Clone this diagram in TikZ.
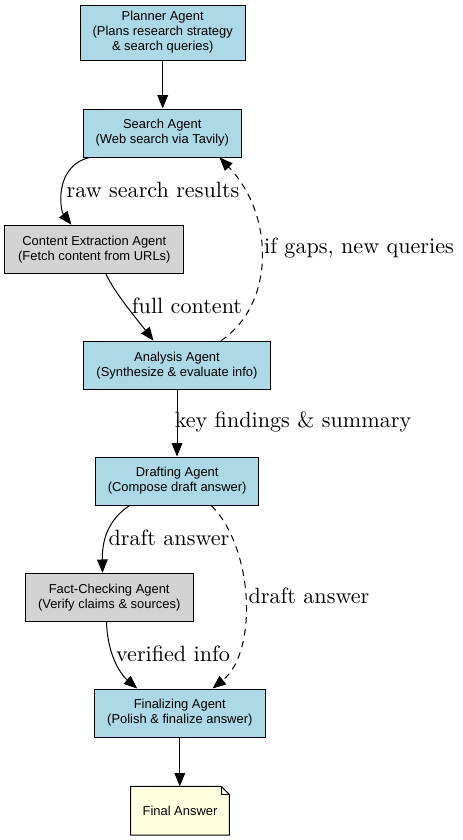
\documentclass[tikz,border=0pt]{standalone}
\usepackage{fontspec}
\newfontfamily\nodefont{Liberation Sans}
\newfontfamily\labelfont{lmroman10-regular.otf}
\usetikzlibrary{arrows.meta,calc}
\definecolor{agentblue}{HTML}{ADD8E6}
\definecolor{agentgray}{HTML}{D3D3D3}
\definecolor{noteyellow}{HTML}{FFFFE0}
\begin{document}
\begin{tikzpicture}[x=0.75pt,y=-0.75pt,
  agent/.style={draw=black, line width=0.75pt, fill=agentblue, align=center,
    minimum height=36pt, inner sep=0pt, font=\nodefont\fontsize{9.7}{11.25}\selectfont},
  grayagent/.style={agent, fill=agentgray},
  elabel/.style={inner sep=0pt, font=\labelfont\fontsize{16.6}{19}\selectfont},
  flow/.style={line width=0.75pt, -{Triangle[length=10pt,width=8pt]}},
  dashflow/.style={flow, dash pattern=on 5pt off 4pt}
]
\useasboundingbox (0,0) rectangle (463,840);

% nodes
\node[agent, minimum width=123.5pt, minimum height=41.25pt] (planner) at (162.7,32.5)
  {Planner Agent\\(Plans research strategy\\\& search queries)};
\node[agent, minimum width=118.5pt] (search) at (162.3,133)
  {Search Agent\\(Web search via Tavily)};
\node[grayagent, minimum width=134.5pt] (content) at (94.3,249.2)
  {Content Extraction Agent\\(Fetch content from URLs)};
\node[agent, minimum width=140.5pt] (analysis) at (177,365.2)
  {Analysis Agent\\(Synthesize \& evaluate info)};
\node[agent, minimum width=122.25pt] (drafting) at (177.2,481)
  {Drafting Agent\\(Compose draft answer)};
\node[grayagent, minimum width=126.2pt] (fact) at (109.2,597.3)
  {Fact-Checking Agent\\(Verify claims \& sources)};
\node[agent, minimum width=128.25pt] (final) at (179.8,713)
  {Finalizing Agent\\(Polish \& finalize answer)};
\node[inner sep=0pt, minimum width=73.5pt, minimum height=36.2pt,
  font=\nodefont\fontsize{9.7}{11.25}\selectfont] (answer) at (180,810.8) {};
\draw[line width=0.75pt, fill=noteyellow]
  (answer.north west) -- ($(answer.north east)+(-8,0)$) -- ($(answer.north east)+(0,8)$)
  -- (answer.south east) -- (answer.south west) -- cycle;
\draw[line width=0.75pt]
  ($(answer.north east)+(-8,0)$) -- ($(answer.north east)+(-8,8)$) -- ($(answer.north east)+(0,8)$);
\node[inner sep=0pt, font=\nodefont\fontsize{9.7}{11.25}\selectfont] (answertext) at (answer.center) {Final Answer};

% edge labels
\node[elabel] (l1) at (153,190) {raw search results};
\node[elabel] (l2) at (187,306) {full content};
\node[elabel] (l3) at (359,248) {if gaps, new queries};
\node[elabel] (l4) at (293,422) {key findings \& summary};
\node[elabel] (l5) at (169,538) {draft answer};
\node[elabel] (l6) at (309,596) {draft answer};
\node[elabel] (l7) at (173,653.5) {verified info};

% connectors
\draw[flow] (planner.south) -- (planner.south |- search.north);
\draw[flow] ($(search.south west)+(6.7,0)$) .. controls (54,166) and (60,210) .. ($(content.north west)+(67.3,0)$);
\draw[flow] ($(content.south west)+(101.7,0)$) .. controls (114,292) and (136,318) .. ($(analysis.north west)+(70.7,0)$);
\draw[dashflow] ($(analysis.north west)+(138,0)$) .. controls (275,305) and (275,215) .. ($(search.south west)+(136.7,0)$);
\draw[flow] (analysis.south) -- (analysis.south |- drafting.north);
\draw[flow] ($(drafting.south west)+(34.3,0)$) .. controls (108,520) and (102,540) .. ($(fact.north west)+(78,0)$);
\draw[dashflow] ($(drafting.south west)+(116,0)$) .. controls (254,548) and (258,652) .. ($(final.north west)+(118.7,0)$);
\draw[flow] ($(fact.south west)+(82,0)$) .. controls (107,650) and (118,672) .. ($(final.north west)+(43.4,0)$);
\draw[flow] (final.south) -- (final.south |- answer.north);
\end{tikzpicture}
\end{document}
